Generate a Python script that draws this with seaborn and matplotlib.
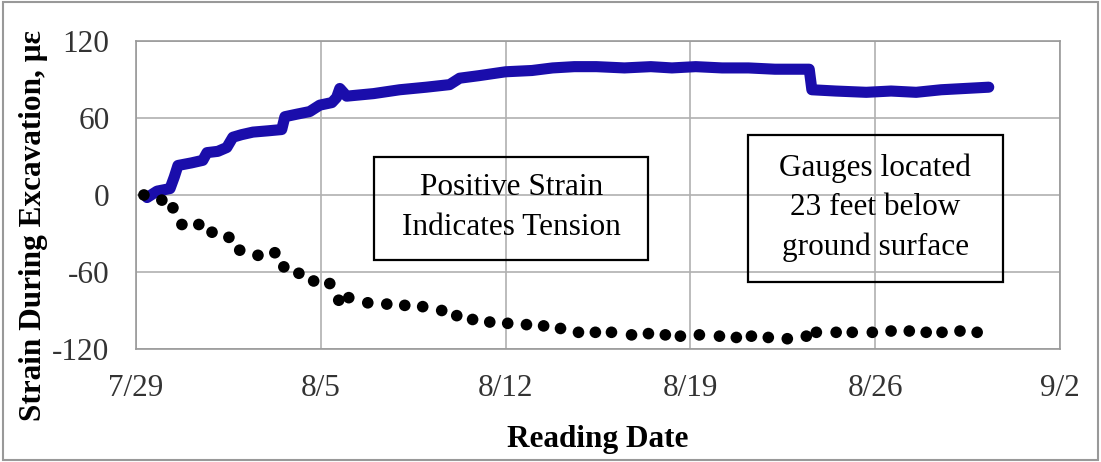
import pandas as pd
import matplotlib
matplotlib.use("Agg")
import matplotlib.pyplot as plt
from matplotlib.patches import Rectangle
import seaborn as sns

# strain readings, days counted from 7/29
blue_day = [0.42, 0.8, 1.29, 1.45, 1.59, 2.1, 2.53, 2.69, 3.1, 3.44, 3.67, 4.0, 4.43, 5.0, 5.52,
            5.64, 6.1, 6.58, 6.96, 7.42, 7.6, 7.72, 7.98, 9.0, 9.99, 11.0, 11.88, 12.26, 13.0,
            14.0, 15.0, 15.78, 16.6, 17.44, 18.5, 19.5, 20.3, 21.2, 22.2, 23.2, 24.2, 25.12,
            25.5, 25.6, 26.5, 27.66, 28.6, 29.55, 30.5, 31.4, 32.3]
blue_val = [-2, 3, 5, 14, 23, 25, 27, 33, 34, 37, 45, 47, 49, 50, 51,
            61, 63, 65, 70, 72, 76, 83, 77, 79, 82, 84, 86, 91, 93,
            96, 97, 99, 100, 100, 99, 100, 99, 100, 99, 99, 98, 98,
            98, 82, 81, 80, 81, 80, 82, 83, 84]

dot_day = [0.30, 0.98, 1.40, 1.74, 2.38, 2.88, 3.52, 3.93, 4.62, 5.26, 5.60, 6.17, 6.73, 7.34,
           7.68, 8.06, 8.78, 9.50, 10.18, 10.86, 11.58, 12.15, 12.75, 13.40, 14.08, 14.79,
           15.44, 16.08, 16.76, 17.40, 18.01, 18.77, 19.41, 20.05, 20.62, 21.34, 22.10, 22.74,
           23.31, 23.95, 24.67, 25.39, 25.77, 26.52, 27.13, 27.89, 28.60, 29.29, 29.93, 30.53,
           31.21, 31.86]
dot_val = [0, -4, -10, -23, -23, -29, -33, -43, -47, -45, -56, -61, -67, -69,
           -82, -80, -84, -85, -86, -87, -90, -94, -97, -99, -100, -101,
           -102, -104, -107, -107, -107, -109, -108, -109, -110, -109, -110, -111,
           -110, -111, -112, -110, -107, -107, -107, -107, -106, -106, -107, -107,
           -106, -107]

tick_days = [0, 7, 14, 21, 28, 35]
tick_labels = ["7/29", "8/5", "8/12", "8/19", "8/26", "9/2"]

blue_df = pd.DataFrame({"day": blue_day, "strain": blue_val})
dot_df = pd.DataFrame({"day": dot_day, "strain": dot_val})

sns.set_style("white")
plt.rcParams["font.family"] = ["Liberation Serif", "DejaVu Serif"]
plt.rcParams["axes.unicode_minus"] = False
plt.rcParams["text.color"] = "black"
plt.rcParams["axes.labelcolor"] = "black"

fig = plt.figure(figsize=(11.01, 4.62), dpi=100)
ax = fig.add_axes([0.1235, 0.2446, 0.8393, 0.6667])

grey = "#999999"
sns.lineplot(data=blue_df, x="day", y="strain", ax=ax, color="#1A0DAB", lw=8,
             solid_capstyle="round", solid_joinstyle="round")
sns.scatterplot(data=dot_df, x="day", y="strain", ax=ax, color="black", s=70,
                edgecolor="none", zorder=3)

ax.set_xlim(0, 35)
ax.set_ylim(-120, 120)
ax.set_xticks(tick_days)
ax.set_xticklabels(tick_labels)
ax.set_yticks([-120, -60, 0, 60, 120])
ax.grid(True, color="#b0b0b0", lw=1.2)
for s in ax.spines.values():
    s.set_color(grey)
    s.set_linewidth(1.2)
ax.tick_params(axis="both", direction="out", length=9, color=grey, labelsize=22.5,
               labelcolor="#333333")
ax.tick_params(axis="x", pad=9)
ax.tick_params(axis="y", pad=10)

ax.set_xlabel("Reading Date", fontsize=22.5, fontweight="bold", labelpad=16)
ax.set_ylabel("Strain During Excavation, \u03bc\u03b5", fontsize=22.5, fontweight="bold")
ax.yaxis.set_label_coords(-0.095, 0.40)

# annotation boxes
ax.add_patch(Rectangle((0.2575, 0.289), 0.2965, 0.334, transform=ax.transAxes,
                       fill=False, ec="black", lw=1.6, zorder=4))
ax.text(0.406, 0.458, "Positive Strain\nIndicates Tension", transform=ax.transAxes,
        ha="center", va="center", fontsize=22.5, linespacing=1.5, zorder=5)
ax.add_patch(Rectangle((0.6623, 0.217), 0.276, 0.477, transform=ax.transAxes,
                       fill=False, ec="black", lw=1.6, zorder=4))
ax.text(0.8, 0.458, "Gauges located\n23 feet below\nground surface", transform=ax.transAxes,
        ha="center", va="center", fontsize=22.5, linespacing=1.45, zorder=5)

fig.patches.append(Rectangle((0.003, 0.005), 0.994, 0.99, transform=fig.transFigure,
                             fill=False, ec=grey, lw=1.5))

plt.savefig("out.png", dpi=100)
